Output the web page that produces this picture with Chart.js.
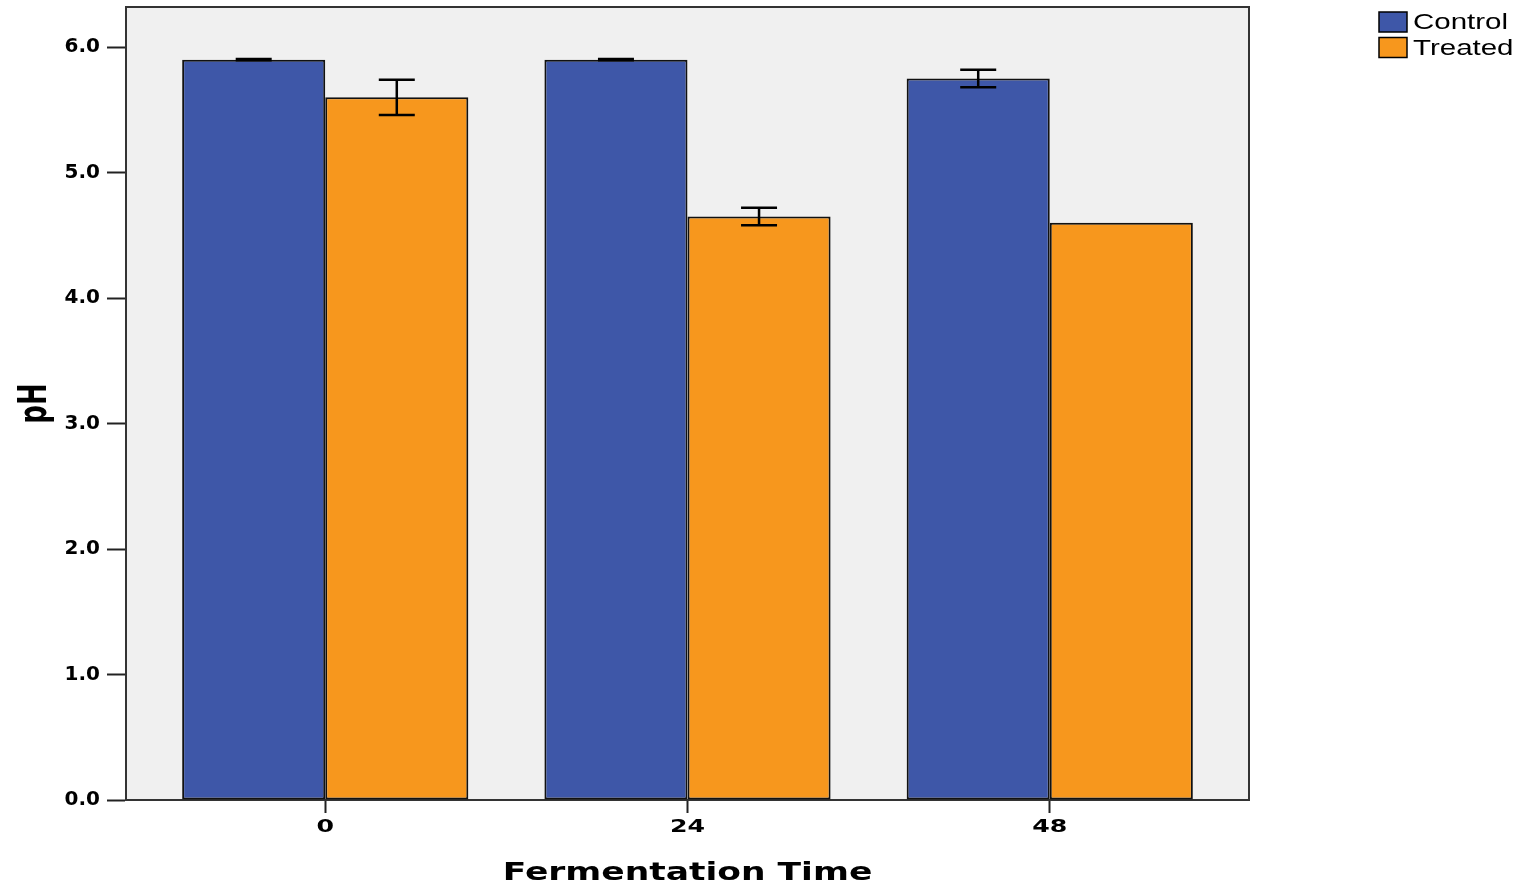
<!DOCTYPE html>
<html>
<head>
<meta charset="utf-8">
<script src="https://cdn.jsdelivr.net/npm/chart.js@4/dist/chart.umd.min.js"></script>
<style>
  html, body { margin: 0; padding: 0; background: #ffffff; }
  #wrap { width: 1525px; height: 886px; position: relative; }
</style>
</head>
<body>
<div id="wrap"><canvas id="c" width="1525" height="886"></canvas></div>
<script>
// ---- Data ----
const times = [0, 24, 48];                    // Fermentation Time categories
const seriesLabels = ['Control', 'Treated'];
const controlMeans = [5.90, 5.90, 5.75];
const treatedMeans = [5.60, 4.65, 4.60];
const controlErr = [0.005, 0.005, 0.07];
const treatedErr = [0.14, 0.07, 0.00];
const yTicks = [0, 1, 2, 3, 4, 5, 6];
const xTitle = 'Fermentation Time';
const yTitle = 'pH';

const COLORS = { Control: '#3e57a8', Treated: '#f7971d' };
// text stretch factors (local sx, sy) to mimic the wide glyphs of the reference
const STRETCH = {
  x: { title: [1.38, 1], labels: [1.4, 1] },
  y: { title: [1, 1.5], labels: [1, 1] }
};

function withStretch(ctx, sx, sy, fn) {
  if (sx === 1 && sy === 1) { fn(); return; }
  const orig = CanvasRenderingContext2D.prototype.fillText;
  ctx.fillText = function (t, x, y, mw) {
    this.save();
    this.translate(x, y);
    this.scale(sx, sy);
    if (mw === undefined) orig.call(this, t, 0, 0);
    else orig.call(this, t, 0, 0, mw / sx);
    this.restore();
  };
  try { fn(); } finally { delete ctx.fillText; }
}

class StretchLinear extends Chart.LinearScale {
  static id = 'stretchLinear';
  static defaults = Chart.LinearScale.defaults;
  drawTitle() {
    const st = (STRETCH[this.id] || {}).title || [1, 1];
    withStretch(this.ctx, st[0], st[1], () => super.drawTitle());
  }
  drawLabels(chartArea) {
    const st = (STRETCH[this.id] || {}).labels || [1, 1];
    withStretch(this.ctx, st[0], st[1], () => super.drawLabels(chartArea));
  }
}
Chart.register(StretchLinear);

const errs = [controlErr, treatedErr];

const plotBg = {
  id: 'plotBg',
  beforeDraw(chart) {
    const { ctx, chartArea: a } = chart;
    ctx.save();
    ctx.fillStyle = '#f0f0f0';
    ctx.fillRect(a.left, a.top, a.right - a.left, a.bottom - a.top);
    ctx.restore();
  },
  afterDraw(chart) {
    const { ctx, chartArea: a } = chart;
    ctx.save();
    ctx.strokeStyle = '#333333';
    ctx.lineWidth = 2;
    ctx.beginPath();
    ctx.moveTo(a.left, a.top);
    ctx.lineTo(a.right, a.top);
    ctx.lineTo(a.right, a.bottom);
    ctx.stroke();
    ctx.restore();
  }
};

const errorBars = {
  id: 'errorBars',
  afterDatasetsDraw(chart) {
    const { ctx } = chart;
    const yScale = chart.scales.y;
    ctx.save();
    ctx.strokeStyle = '#000000';
    ctx.lineWidth = 2.5;
    chart.data.datasets.forEach((ds, di) => {
      const meta = chart.getDatasetMeta(di);
      meta.data.forEach((el, i) => {
        const e = errs[di][i];
        if (!e) return;
        const v = ds.data[i].y;
        const x = el.x;
        const yt = yScale.getPixelForValue(v + e);
        const yb = yScale.getPixelForValue(v - e);
        const hw = 18;
        ctx.beginPath();
        ctx.moveTo(x, yt); ctx.lineTo(x, yb);
        ctx.moveTo(x - hw, yt); ctx.lineTo(x + hw, yt);
        ctx.moveTo(x - hw, yb); ctx.lineTo(x + hw, yb);
        ctx.stroke();
      });
    });
    ctx.restore();
  }
};

const customLegend = {
  id: 'customLegend',
  afterDraw(chart) {
    const { ctx } = chart;
    ctx.save();
    chart.data.datasets.forEach((ds, i) => {
      const bx = 1379, by = 12 + i * 25.5, bw = 28, bh = 20;
      ctx.fillStyle = ds.backgroundColor;
      ctx.fillRect(bx, by, bw, bh);
      ctx.strokeStyle = '#000000';
      ctx.lineWidth = 1.5;
      ctx.strokeRect(bx, by, bw, bh);
      ctx.save();
      const tx = 1413, ty = by + bh / 2 + 1;
      ctx.translate(tx, ty);
      ctx.scale(1.34, 1);
      ctx.fillStyle = '#000000';
      ctx.font = '22px "Liberation Sans", Arial, sans-serif';
      ctx.textBaseline = 'middle';
      ctx.textAlign = 'left';
      ctx.fillText(ds.label, 0, 0);
      ctx.restore();
    });
    ctx.restore();
  }
};

const datasets = [controlMeans, treatedMeans].map((arr, si) => ({
  label: seriesLabels[si],
  data: times.map((t, i) => ({ x: t, y: arr[i] })),
  backgroundColor: COLORS[seriesLabels[si]],
  borderColor: '#111111',
  borderWidth: 2,
  borderSkipped: false,
  categoryPercentage: 0.79,
  barPercentage: 1.0
}));

new Chart(document.getElementById('c'), {
  type: 'bar',
  data: { datasets },
  plugins: [plotBg, errorBars, customLegend],
  options: {
    responsive: false,
    animation: false,
    devicePixelRatio: 1,
    layout: { padding: { top: 0, right: 276, left: 0, bottom: 0 } },
    plugins: {
      legend: { display: false },
      tooltip: { enabled: false }
    },
    scales: {
      x: {
        type: 'stretchLinear',
        position: 'bottom',
        offset: false,
        min: -13.2,
        max: 61.2,
        afterBuildTicks(scale) { scale.ticks = times.map(v => ({ value: v })); },
        afterFit(scale) { scale.height = 86; scale.paddingLeft = 0; scale.paddingRight = 0; },
        grid: {
          offset: false,
          drawOnChartArea: false,
          drawTicks: true,
          tickLength: 13,
          tickColor: '#222222',
          tickWidth: 2
        },
        border: { display: true, color: '#333333', width: 2 },
        ticks: {
          color: '#000000',
          padding: 4,
          maxRotation: 0,
          font: { family: '"DejaVu Sans", Verdana, sans-serif', size: 18, weight: 'bold' },
          callback: (v) => String(v)
        },
        title: {
          display: true,
          text: xTitle,
          color: '#000000',
          padding: { top: 0, bottom: 0 },
          font: { family: '"DejaVu Sans", Verdana, sans-serif', size: 25, weight: 'bold', lineHeight: 1.0 }
        }
      },
      y: {
        type: 'stretchLinear',
        position: 'left',
        min: 0,
        max: 6.32,
        afterBuildTicks(scale) { scale.ticks = yTicks.map(v => ({ value: v })); },
        afterFit(scale) { scale.width = 126; scale.paddingTop = 7; scale.paddingBottom = 0; },
        grid: {
          drawOnChartArea: false,
          drawTicks: true,
          tickLength: 19,
          tickColor: '#222222',
          tickWidth: 2
        },
        border: { display: true, color: '#333333', width: 2 },
        ticks: {
          color: '#000000',
          padding: 7,
          font: { family: '"DejaVu Sans", Verdana, sans-serif', size: 20, weight: 'bold' },
          callback: (v) => Number(v).toFixed(1)
        },
        title: {
          display: true,
          text: yTitle,
          color: '#000000',
          padding: { top: 20, bottom: 0 },
          font: { family: '"DejaVu Sans", Verdana, sans-serif', size: 26, weight: 'bold', lineHeight: 1.2 }
        }
      }
    }
  }
});
</script>
</body>
</html>
